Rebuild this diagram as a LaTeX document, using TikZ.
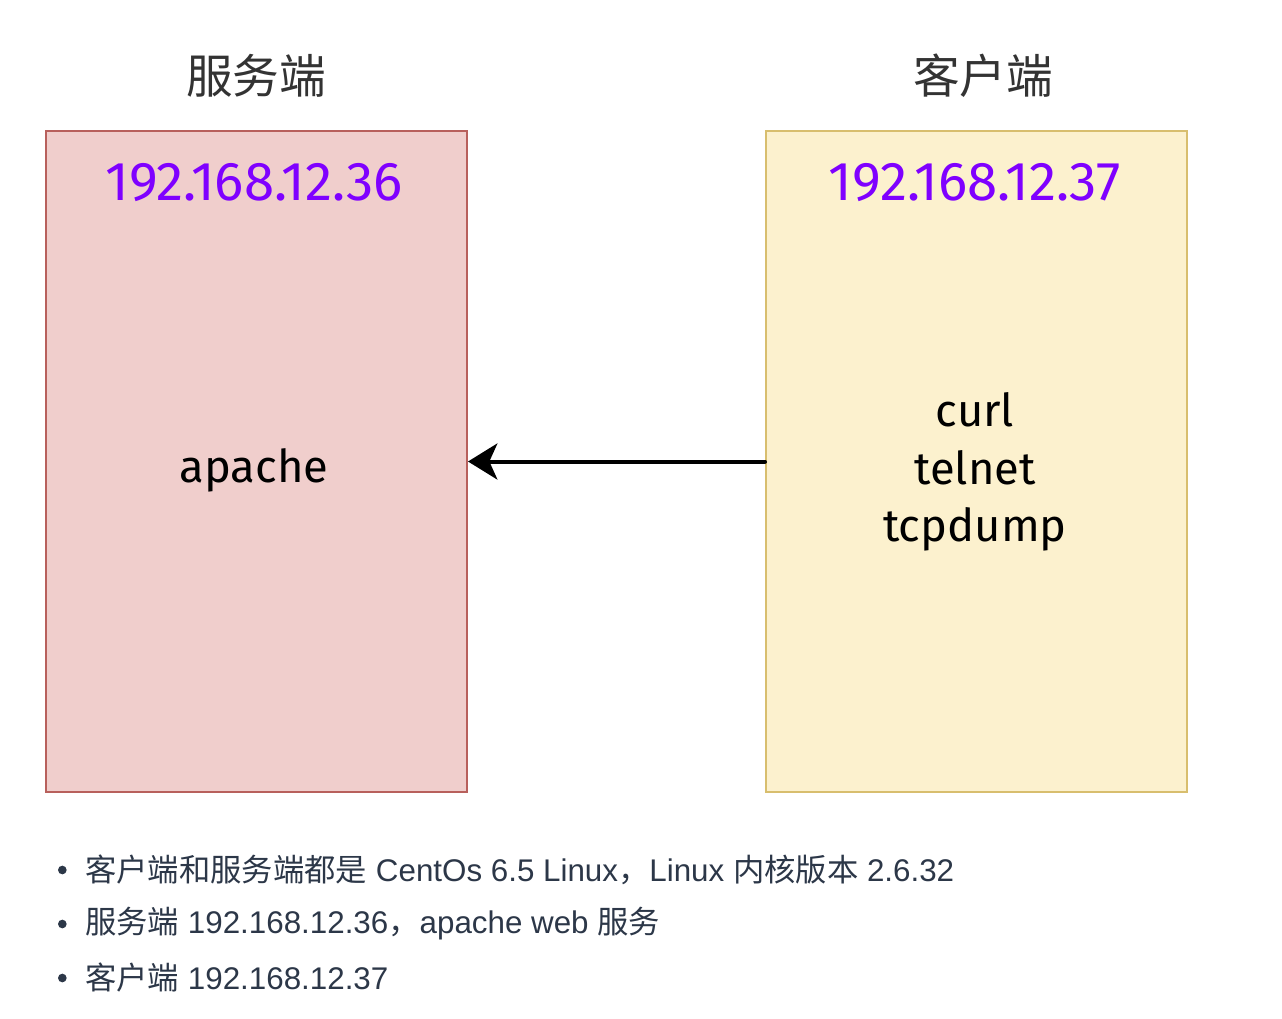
\documentclass[tikz,border=0pt]{standalone}
\usepackage{fontspec}
\setmainfont{Fira Sans}
\newfontfamily\cjk{Noto Sans CJK SC}
\newfontfamily\lat{Liberation Sans}
\usetikzlibrary{positioning,arrows.meta}

\begin{document}
\begin{tikzpicture}
	[x=0.75pt,y=-0.75pt,line cap=round,
	%Styles
	host box/.style={draw,line width=1.5pt,minimum width=315.75pt,minimum height=495.75pt,inner sep=0pt},
	ip text/.style={text=ipcolor,font=\fontsize{41}{46}\selectfont},
	prog text/.style={black,font=\fontsize{34}{43}\selectfont,align=center},
	title text/.style={black!80,font=\cjk\fontsize{35}{40}\selectfont},
	note text/.style={anchor=west,text=notecolor,font=\cjk\fontsize{23.5}{27}\selectfont,inner sep=0pt},
	dot/.style={circle,inner sep=0pt,minimum size=6.5pt,fill=notecolor}
	]
	
	%Colors
	\definecolor{serverfill}{RGB}{240,206,204}
	\definecolor{serverdraw}{RGB}{184,96,92}
	\definecolor{clientfill}{RGB}{252,241,206}
	\definecolor{clientdraw}{RGB}{216,190,110}
	\definecolor{ipcolor}{RGB}{127,0,255}
	\definecolor{notecolor}{RGB}{44,55,72}
	
	\useasboundingbox (0,0) rectangle (1282,1018);
	
	%The graphic
	\node[host box,fill=serverfill,draw=serverdraw] (server) at (256.5,461.5) {};
	\node[host box,fill=clientfill,draw=clientdraw] (client) at (976.5,461.5) {};
	
	\node[title text] (servertitle) at (256,76) {服务端};
	\node[title text] (clienttitle) at (983,76) {客户端};
	
	\node[ip text] (serverip) at (254,183) {192.168.12.36};
	\node[ip text] (clientip) at (975,183) {192.168.12.37};
	
	\node[prog text] (apache) at (254,470) {apache};
	\node[prog text] (tools) at (975,472) {curl\\telnet\\tcpdump};
	
	\draw[line width=3pt,-{Stealth[length=22pt,width=27pt,inset=6pt]}] (client.west) -- (server.east);
	
	%Notes
	\node[note text] (note1) at (85,870) {客户端和服务端都是\lat{} CentOs 6.5 Linux\cjk{}，\lat{}Linux \cjk{}内核版本\lat{} 2.6.32};
	\node[note text] (note2) at (85,924) {服务端\lat{} 192.168.12.36\cjk{}，\lat{}apache web \cjk{}服务};
	\node[note text] (note3) at (85,978) {客户端\lat{} 192.168.12.37};
	\foreach \n in {note1,note2,note3}
		\node[dot] at ([xshift=-17pt]\n.west) {};
\end{tikzpicture}
\end{document}
